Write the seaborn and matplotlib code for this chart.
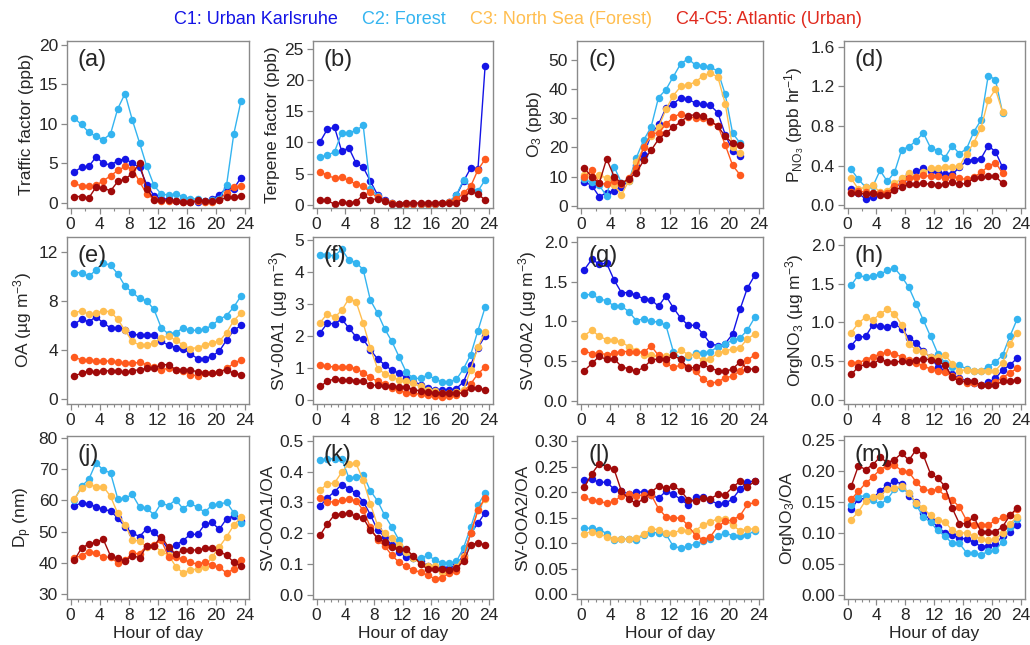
import numpy as np
import pandas as pd
import matplotlib
matplotlib.use("Agg")
import matplotlib.pyplot as plt
from matplotlib.ticker import MultipleLocator, FormatStrFormatter
import seaborn as sns

# ---------------- data: diurnal cycles (hourly means, bins centred on the half hour) ----------------
hours = [h + 0.5 for h in range(24)]

clusters = ["C1", "C2", "C3", "C4", "C5"]
cluster_colors = ["#1414e6", "#34b4f0", "#ffbe50", "#ff5a1e", "#a00a0a"]
legend_labels = ["C1: Urban Karlsruhe", "C2: Forest", "C3: North Sea (Forest)", "C4-C5: Atlantic (Urban)"]
legend_colors = ["#1414e6", "#34b4f0", "#ffbe50", "#e02a1e"]

# (a) traffic factor (ppb)
traffic_c1 = [3.9, 4.5, 4.6, 5.8, 5.0, 4.8, 5.3, 5.6, 5.0, 4.5, 2.3, 0.9, 0.5, 0.5, 0.2, 0.2, 0.1, 0.1, 0.2, 0.5, 1.0, 1.9, 1.8, 3.2]
traffic_c2 = [10.7, 9.9, 8.9, 8.4, 8.0, 8.7, 11.9, 13.8, 10.5, 7.6, 4.6, 2.2, 1.1, 1.0, 1.1, 0.8, 0.5, 0.5, 0.2, 0.3, 0.5, 2.2, 8.7, 12.9]
traffic_c4 = [2.5, 2.1, 2.1, 2.2, 2.8, 3.4, 4.1, 4.6, 4.3, 2.7, 1.1, 0.5, 0.2, 0.2, 0.2, 0.1, 0.1, 0.2, 0.1, 0.1, 0.4, 1.3, 2.0, 2.1]
traffic_c5 = [0.8, 0.8, 0.6, 2.0, 1.9, 1.5, 2.7, 3.0, 3.7, 5.0, 1.8, 0.4, 0.4, 0.3, 0.2, 0.1, 0.1, 0.3, 0.2, 0.2, 0.3, 0.7, 0.7, 0.9]

# (b) terpene factor (ppb)
terpene_c1 = [10.1, 12.1, 12.4, 8.6, 9.1, 6.7, 6.0, 3.8, 1.6, 0.7, 0.3, 0.2, 0.2, 0.2, 0.2, 0.2, 0.2, 0.3, 0.5, 1.5, 3.8, 5.9, 5.7, 22.2]
terpene_c2 = [7.7, 7.9, 8.5, 11.5, 11.5, 11.9, 12.7, 2.6, 1.4, 0.6, 0.3, 0.2, 0.2, 0.2, 0.2, 0.2, 0.2, 0.3, 0.5, 1.6, 4.0, 2.9, 2.2, 4.0]
terpene_c4 = [5.3, 4.7, 4.3, 4.4, 3.9, 3.3, 3.0, 2.0, 1.2, 0.6, 0.3, 0.2, 0.2, 0.2, 0.2, 0.2, 0.2, 0.3, 0.4, 0.9, 1.9, 3.0, 5.6, 7.3]
terpene_c5 = [0.7, 0.7, 0.1, 0.4, 0.3, 0.5, 1.6, 0.8, 1.0, 0.6, 0.2, 0.2, 0.3, 0.3, 0.3, 0.3, 0.3, 0.3, 0.3, 0.3, 1.1, 2.2, 1.7, 0.8]

# (c) O3 (ppb), 0:30-21:30
o3_c1 = [8.2, 6.9, 3.1, 4.4, 5.2, 6.3, 8.7, 13.9, 17.3, 24.4, 27.9, 33.5, 35.0, 37.0, 36.5, 35.2, 34.8, 34.4, 31.9, 24.4, 18.8, 17.0]
o3_c2 = [9.0, 8.0, 7.0, 3.3, 13.4, 7.8, 8.5, 16.4, 22.5, 27.0, 37.1, 39.8, 44.3, 48.7, 50.4, 48.2, 48.0, 47.5, 46.2, 38.2, 24.9, 21.5]
o3_c3 = [10.6, 10.0, 10.5, 9.4, 7.0, 3.8, 8.5, 15.0, 20.0, 24.0, 27.0, 33.0, 37.8, 40.9, 41.5, 42.4, 44.6, 45.5, 44.2, 35.0, 20.0, 17.9]
o3_c4 = [9.7, 12.2, 7.7, 7.3, 8.3, 7.5, 9.5, 13.0, 20.0, 24.7, 25.0, 27.9, 30.4, 31.6, 30.4, 30.2, 30.0, 28.8, 27.5, 20.9, 13.8, 10.6]
o3_c5 = [12.8, 9.9, 7.7, 16.1, 10.0, 7.7, 9.2, 11.3, 15.5, 19.0, 22.8, 24.9, 27.0, 28.7, 30.9, 31.2, 30.7, 29.0, 27.3, 23.8, 21.4, 20.8]

# (d) nitrate radical production rate (ppb hr-1), 0:30-21:30
pno3_c1 = [0.16, 0.12, 0.06, 0.08, 0.12, 0.13, 0.16, 0.24, 0.31, 0.34, 0.37, 0.34, 0.33, 0.31, 0.31, 0.38, 0.45, 0.46, 0.47, 0.60, 0.54, 0.38]
pno3_c2 = [0.36, 0.26, 0.18, 0.19, 0.35, 0.24, 0.33, 0.56, 0.59, 0.65, 0.73, 0.58, 0.55, 0.48, 0.60, 0.52, 0.57, 0.74, 0.86, 1.31, 1.27, 0.93]
pno3_c3 = [0.27, 0.16, 0.18, 0.20, 0.13, 0.14, 0.22, 0.27, 0.32, 0.28, 0.33, 0.37, 0.37, 0.38, 0.38, 0.39, 0.52, 0.63, 0.78, 1.06, 1.17, 0.94]
pno3_c4 = [0.13, 0.14, 0.13, 0.12, 0.12, 0.12, 0.19, 0.22, 0.27, 0.28, 0.30, 0.29, 0.29, 0.27, 0.29, 0.27, 0.26, 0.28, 0.33, 0.39, 0.43, 0.32]
pno3_c5 = [0.12, 0.12, 0.11, 0.12, 0.10, 0.10, 0.15, 0.18, 0.21, 0.21, 0.22, 0.21, 0.20, 0.21, 0.23, 0.21, 0.22, 0.27, 0.28, 0.29, 0.29, 0.22]

# (e) OA (ug m-3)
oa_c1 = [6.1, 6.5, 6.3, 6.7, 6.2, 5.8, 5.8, 5.6, 5.3, 5.2, 5.2, 5.2, 4.7, 4.4, 4.2, 4.1, 3.7, 3.3, 3.3, 3.5, 3.9, 4.8, 5.6, 6.0]
oa_c2 = [10.3, 10.3, 10.0, 10.5, 11.1, 10.9, 10.2, 9.2, 8.7, 8.2, 8.0, 7.3, 5.8, 5.3, 5.4, 5.8, 5.6, 5.6, 5.7, 6.0, 6.5, 6.8, 7.5, 8.4]
oa_c3 = [7.0, 7.2, 6.9, 7.0, 7.2, 7.1, 6.5, 5.6, 4.7, 4.4, 4.4, 4.6, 5.0, 5.1, 4.8, 4.4, 4.1, 4.2, 4.4, 4.6, 4.7, 5.4, 6.4, 7.0]
oa_c4 = [3.4, 3.2, 3.2, 3.1, 3.1, 3.1, 3.0, 2.9, 2.9, 3.0, 2.8, 2.6, 2.4, 2.5, 2.4, 2.3, 2.0, 1.9, 2.1, 2.1, 2.2, 2.5, 2.9, 3.2]
oa_c5 = [1.9, 2.1, 2.3, 2.2, 2.3, 2.3, 2.3, 2.2, 2.3, 2.4, 2.5, 2.5, 2.8, 2.8, 2.4, 2.4, 2.4, 2.2, 2.1, 2.1, 2.2, 2.4, 2.1, 2.0]

# (f) SV-OOA1 (ug m-3)
svooa1_c1 = [2.10, 2.40, 2.38, 2.53, 2.25, 1.98, 1.90, 1.57, 1.28, 1.10, 0.92, 0.84, 0.68, 0.57, 0.48, 0.38, 0.32, 0.30, 0.30, 0.35, 0.57, 1.10, 1.63, 2.00]
svooa1_c2 = [4.55, 4.55, 4.50, 4.72, 4.38, 4.30, 4.08, 3.12, 2.72, 2.22, 1.83, 1.35, 0.87, 0.67, 0.67, 0.78, 0.65, 0.57, 0.57, 0.64, 0.98, 1.42, 2.17, 2.90]
svooa1_c3 = [2.42, 2.70, 2.58, 2.80, 3.17, 3.08, 2.40, 1.62, 0.98, 0.82, 0.72, 0.62, 0.58, 0.52, 0.42, 0.32, 0.28, 0.22, 0.22, 0.25, 0.32, 0.95, 1.65, 2.13]
svooa1_c4 = [1.10, 1.05, 1.03, 1.03, 1.03, 0.98, 0.85, 0.70, 0.58, 0.50, 0.38, 0.30, 0.22, 0.20, 0.18, 0.15, 0.13, 0.10, 0.12, 0.15, 0.25, 0.50, 0.82, 1.02]
svooa1_c5 = [0.42, 0.58, 0.66, 0.62, 0.63, 0.60, 0.58, 0.47, 0.45, 0.42, 0.43, 0.40, 0.40, 0.32, 0.28, 0.25, 0.22, 0.20, 0.20, 0.20, 0.22, 0.38, 0.36, 0.32]

# (g) SV-OOA2 (ug m-3)
svooa2_c1 = [1.65, 1.78, 1.72, 1.73, 1.52, 1.36, 1.36, 1.33, 1.28, 1.27, 1.19, 1.32, 1.17, 1.04, 0.95, 0.95, 0.84, 0.72, 0.69, 0.72, 0.84, 1.15, 1.42, 1.58]
svooa2_c2 = [1.33, 1.34, 1.28, 1.26, 1.19, 1.19, 1.12, 1.01, 1.03, 1.00, 0.99, 0.95, 0.62, 0.53, 0.55, 0.60, 0.60, 0.62, 0.68, 0.72, 0.76, 0.79, 0.89, 1.05]
svooa2_c3 = [0.82, 0.89, 0.81, 0.77, 0.76, 0.74, 0.68, 0.63, 0.58, 0.57, 0.56, 0.56, 0.57, 0.64, 0.58, 0.57, 0.51, 0.53, 0.60, 0.63, 0.65, 0.67, 0.78, 0.84]
svooa2_c4 = [0.63, 0.59, 0.60, 0.58, 0.60, 0.62, 0.62, 0.62, 0.61, 0.69, 0.57, 0.47, 0.42, 0.45, 0.42, 0.37, 0.27, 0.22, 0.24, 0.29, 0.31, 0.38, 0.51, 0.58]
svooa2_c5 = [0.38, 0.47, 0.56, 0.52, 0.53, 0.43, 0.40, 0.37, 0.42, 0.51, 0.53, 0.52, 0.57, 0.52, 0.41, 0.42, 0.46, 0.41, 0.38, 0.37, 0.40, 0.49, 0.40, 0.40]

# (h) OrgNO3 (ug m-3)
orgno3_c1 = [0.70, 0.81, 0.82, 0.97, 0.95, 0.94, 0.98, 0.92, 0.80, 0.74, 0.63, 0.55, 0.43, 0.38, 0.33, 0.28, 0.25, 0.22, 0.20, 0.23, 0.28, 0.39, 0.45, 0.54]
orgno3_c2 = [1.48, 1.61, 1.58, 1.60, 1.62, 1.67, 1.70, 1.59, 1.45, 1.24, 1.03, 0.82, 0.60, 0.48, 0.43, 0.45, 0.40, 0.38, 0.38, 0.43, 0.49, 0.58, 0.82, 1.04]
orgno3_c3 = [0.87, 0.99, 1.07, 1.03, 1.11, 1.17, 1.11, 0.97, 0.72, 0.65, 0.62, 0.56, 0.56, 0.58, 0.47, 0.38, 0.39, 0.38, 0.38, 0.38, 0.38, 0.48, 0.72, 0.87]
orgno3_c4 = [0.48, 0.48, 0.52, 0.56, 0.59, 0.62, 0.59, 0.56, 0.52, 0.48, 0.44, 0.40, 0.38, 0.36, 0.31, 0.27, 0.22, 0.22, 0.20, 0.20, 0.23, 0.29, 0.35, 0.41]
orgno3_c5 = [0.33, 0.43, 0.46, 0.46, 0.53, 0.49, 0.49, 0.50, 0.49, 0.52, 0.53, 0.52, 0.50, 0.45, 0.30, 0.24, 0.24, 0.24, 0.19, 0.19, 0.20, 0.24, 0.25, 0.26]

# (j) particle diameter Dp (nm)
dp_c1 = [58.2, 59.2, 58.7, 58.0, 57.1, 56.6, 54.3, 51.6, 49.5, 48.4, 50.9, 49.7, 47.5, 44.2, 45.7, 47.1, 49.1, 49.1, 52.3, 52.9, 50.7, 54.1, 55.1, 53.3]
dp_c2 = [60.0, 64.5, 66.7, 72.0, 69.7, 68.8, 60.5, 60.6, 61.9, 57.9, 57.4, 55.4, 59.1, 58.3, 60.2, 57.3, 59.0, 57.8, 56.2, 58.5, 58.7, 59.4, 56.0, 52.8]
dp_c3 = [60.5, 63.8, 65.3, 64.3, 64.4, 61.3, 55.8, 52.2, 47.3, 47.0, 45.0, 45.5, 43.6, 42.5, 38.8, 36.7, 37.7, 38.0, 38.8, 41.8, 45.0, 48.3, 52.0, 54.6]
dp_c4 = [41.5, 42.3, 43.6, 43.2, 41.8, 41.8, 39.9, 40.8, 43.0, 42.9, 45.5, 45.8, 47.2, 42.0, 41.8, 41.2, 40.1, 39.6, 40.2, 39.2, 38.6, 36.7, 38.0, 40.8]
dp_c5 = [40.8, 44.7, 46.0, 46.6, 47.5, 42.2, 41.4, 40.6, 42.3, 41.6, 45.4, 45.5, 48.4, 45.0, 42.7, 44.1, 44.2, 44.0, 44.6, 44.6, 43.6, 42.4, 40.2, 38.9]

# (k) SV-OOA1 / OA
f_ooa1_c1 = [0.288, 0.315, 0.335, 0.358, 0.345, 0.330, 0.303, 0.260, 0.210, 0.188, 0.160, 0.140, 0.122, 0.120, 0.110, 0.093, 0.088, 0.087, 0.087, 0.095, 0.130, 0.200, 0.232, 0.267]
f_ooa1_c2 = [0.437, 0.442, 0.442, 0.442, 0.380, 0.382, 0.390, 0.338, 0.305, 0.258, 0.220, 0.177, 0.140, 0.118, 0.118, 0.128, 0.113, 0.103, 0.103, 0.108, 0.153, 0.220, 0.292, 0.330]
f_ooa1_c3 = [0.340, 0.360, 0.363, 0.398, 0.425, 0.427, 0.372, 0.296, 0.225, 0.200, 0.183, 0.160, 0.140, 0.120, 0.100, 0.093, 0.092, 0.075, 0.075, 0.090, 0.125, 0.200, 0.275, 0.310]
f_ooa1_c4 = [0.315, 0.300, 0.303, 0.307, 0.310, 0.305, 0.275, 0.220, 0.178, 0.158, 0.128, 0.105, 0.092, 0.080, 0.073, 0.063, 0.052, 0.055, 0.070, 0.078, 0.120, 0.200, 0.275, 0.315]
f_ooa1_c5 = [0.194, 0.230, 0.260, 0.262, 0.265, 0.255, 0.250, 0.210, 0.185, 0.170, 0.155, 0.150, 0.148, 0.125, 0.100, 0.083, 0.085, 0.083, 0.080, 0.087, 0.108, 0.163, 0.168, 0.162]

# (l) SV-OOA2 / OA
f_ooa2_c1 = [0.223, 0.226, 0.219, 0.220, 0.206, 0.202, 0.196, 0.201, 0.200, 0.195, 0.188, 0.202, 0.196, 0.186, 0.175, 0.191, 0.190, 0.184, 0.177, 0.178, 0.187, 0.206, 0.220, 0.222]
f_ooa2_c2 = [0.129, 0.130, 0.127, 0.119, 0.106, 0.108, 0.108, 0.107, 0.117, 0.121, 0.121, 0.118, 0.094, 0.091, 0.094, 0.099, 0.104, 0.108, 0.115, 0.120, 0.115, 0.115, 0.117, 0.124]
f_ooa2_c3 = [0.119, 0.123, 0.118, 0.113, 0.108, 0.108, 0.108, 0.110, 0.118, 0.128, 0.127, 0.120, 0.120, 0.126, 0.124, 0.125, 0.136, 0.142, 0.148, 0.147, 0.135, 0.125, 0.128, 0.128]
f_ooa2_c4 = [0.190, 0.184, 0.183, 0.178, 0.182, 0.193, 0.197, 0.193, 0.195, 0.195, 0.168, 0.152, 0.150, 0.149, 0.135, 0.115, 0.107, 0.113, 0.133, 0.143, 0.146, 0.154, 0.176, 0.180]
f_ooa2_c5 = [0.210, 0.236, 0.256, 0.250, 0.245, 0.202, 0.186, 0.178, 0.187, 0.200, 0.212, 0.208, 0.212, 0.203, 0.185, 0.182, 0.189, 0.187, 0.196, 0.195, 0.210, 0.221, 0.210, 0.222]

# (m) OrgNO3 / OA
f_orgno3_c1 = [0.138, 0.155, 0.155, 0.156, 0.167, 0.177, 0.183, 0.179, 0.160, 0.150, 0.132, 0.120, 0.110, 0.100, 0.097, 0.092, 0.090, 0.085, 0.078, 0.079, 0.082, 0.095, 0.102, 0.113]
f_orgno3_c2 = [0.145, 0.158, 0.160, 0.153, 0.146, 0.154, 0.170, 0.173, 0.165, 0.145, 0.126, 0.117, 0.104, 0.095, 0.083, 0.083, 0.068, 0.068, 0.065, 0.070, 0.072, 0.086, 0.110, 0.123]
f_orgno3_c3 = [0.121, 0.134, 0.152, 0.158, 0.160, 0.170, 0.172, 0.175, 0.165, 0.148, 0.140, 0.128, 0.120, 0.118, 0.104, 0.100, 0.100, 0.095, 0.090, 0.088, 0.090, 0.100, 0.115, 0.125]
f_orgno3_c4 = [0.154, 0.167, 0.180, 0.190, 0.202, 0.208, 0.209, 0.200, 0.198, 0.182, 0.170, 0.168, 0.170, 0.160, 0.153, 0.142, 0.120, 0.113, 0.113, 0.113, 0.120, 0.125, 0.128, 0.138]
f_orgno3_c5 = [0.175, 0.208, 0.202, 0.210, 0.222, 0.213, 0.218, 0.228, 0.217, 0.234, 0.225, 0.195, 0.188, 0.175, 0.140, 0.115, 0.115, 0.126, 0.102, 0.102, 0.102, 0.110, 0.128, 0.140]

# ---------------- styling ----------------
sns.set_theme(style="white")
plt.rcParams["font.family"] = ["Liberation Sans", "DejaVu Sans"]
plt.rcParams["mathtext.fontset"] = "custom"
plt.rcParams["mathtext.rm"] = "Liberation Sans"
plt.rcParams["mathtext.it"] = "Liberation Sans:italic"
plt.rcParams["mathtext.bf"] = "Liberation Sans:bold"
plt.rcParams["mathtext.default"] = "regular"

palette = dict(zip(clusters, cluster_colors))
FRAME = "#8a8a8a"

W, H = 1030, 645
fig = plt.figure(figsize=(W / 100, H / 100), dpi=100)
fig.patch.set_facecolor("white")

col_lr = [(67, 249), (313, 493), (577, 763), (844, 1025)]
row_tb = [(41, 208), (237, 404), (436, 599)]


def add_ax(col, row):
    l, r = col_lr[col]
    t, b = row_tb[row]
    return fig.add_axes([l / W, 1 - b / H, (r - l) / W, (b - t) / H])


panels = [
    ("(a)", {"C1": traffic_c1, "C2": traffic_c2, "C4": traffic_c4, "C5": traffic_c5},
     (-0.65, 20.45), 5, "%d", "Traffic factor (ppb)"),
    ("(b)", {"C1": terpene_c1, "C2": terpene_c2, "C4": terpene_c4, "C5": terpene_c5},
     (-0.5, 26.2), 5, "%d", "Terpene factor (ppb)"),
    ("(c)", {"C1": o3_c1, "C2": o3_c2, "C3": o3_c3, "C4": o3_c4, "C5": o3_c5},
     (-0.8, 56.5), 10, "%d", "O$_3$ (ppb)"),
    ("(d)", {"C1": pno3_c1, "C2": pno3_c2, "C3": pno3_c3, "C4": pno3_c4, "C5": pno3_c5},
     (-0.03, 1.66), 0.4, "%.1f", "P$_{NO_3}$ (ppb hr$^{-1}$)"),
    ("(e)", {"C1": oa_c1, "C2": oa_c2, "C3": oa_c3, "C4": oa_c4, "C5": oa_c5},
     (-0.4, 13.2), 4, "%d", "OA (µg m$^{-3}$)"),
    ("(f)", {"C1": svooa1_c1, "C2": svooa1_c2, "C3": svooa1_c3, "C4": svooa1_c4, "C5": svooa1_c5},
     (-0.13, 5.1), 1, "%d", "SV-00A1 (µg m$^{-3}$)"),
    ("(g)", {"C1": svooa2_c1, "C2": svooa2_c2, "C3": svooa2_c3, "C4": svooa2_c4, "C5": svooa2_c5},
     (-0.04, 2.06), 0.5, "%.1f", "SV-00A2 (µg m$^{-3}$)"),
    ("(h)", {"C1": orgno3_c1, "C2": orgno3_c2, "C3": orgno3_c3, "C4": orgno3_c4, "C5": orgno3_c5},
     (-0.05, 2.1), 0.5, "%.1f", "OrgNO$_3$ (µg m$^{-3}$)"),
    ("(j)", {"C1": dp_c1, "C2": dp_c2, "C3": dp_c3, "C4": dp_c4, "C5": dp_c5},
     (28.4, 80.6), 10, "%d", "D$_p$ (nm)"),
    ("(k)", {"C1": f_ooa1_c1, "C2": f_ooa1_c2, "C3": f_ooa1_c3, "C4": f_ooa1_c4, "C5": f_ooa1_c5},
     (-0.014, 0.516), 0.1, "%.1f", "SV-OOA1/OA"),
    ("(l)", {"C1": f_ooa2_c1, "C2": f_ooa2_c2, "C3": f_ooa2_c3, "C4": f_ooa2_c4, "C5": f_ooa2_c5},
     (-0.009, 0.31), 0.05, "%.2f", "SV-OOA2/OA"),
    ("(m)", {"C1": f_orgno3_c1, "C2": f_orgno3_c2, "C3": f_orgno3_c3, "C4": f_orgno3_c4, "C5": f_orgno3_c5},
     (-0.0065, 0.256), 0.05, "%.2f", "OrgNO$_3$/OA"),
]

for idx, (tag, series, ylim, ystep, yfmt, ylabel) in enumerate(panels):
    row, col = divmod(idx, 4)
    ax = add_ax(col, row)

    frames = []
    for name, vals in series.items():
        frames.append(pd.DataFrame({"hour": hours[:len(vals)], "value": vals, "cluster": name}))
    df = pd.concat(frames, ignore_index=True)
    order = [c for c in clusters if c in series]

    sns.lineplot(data=df, x="hour", y="value", hue="cluster", hue_order=order,
                 palette=palette, marker="o", markersize=5.4, markeredgewidth=0,
                 linewidth=1.0, estimator=None, sort=False, legend=False, ax=ax)

    ax.set_xlim(-0.5, 24.6)
    ax.set_ylim(*ylim)
    ax.xaxis.set_major_locator(MultipleLocator(4))
    ax.xaxis.set_minor_locator(MultipleLocator(2 if row == 0 else 1))
    ax.yaxis.set_major_locator(MultipleLocator(ystep))
    ax.yaxis.set_major_formatter(FormatStrFormatter(yfmt))

    for s in ax.spines.values():
        s.set_color(FRAME)
        s.set_linewidth(1.0)
    ax.tick_params(axis="both", which="major", direction="out", length=4.5, width=0.9,
                   color=FRAME, labelsize=12.5, pad=2, bottom=True, left=True)
    ax.tick_params(axis="x", which="minor", direction="out", length=2.5, width=0.8,
                   color=FRAME, bottom=True)

    ax.set_ylabel(ylabel, fontsize=12.5, labelpad=3)
    if row == 2:
        ax.set_xlabel("Hour of day", fontsize=12.5, labelpad=2)
    else:
        ax.set_xlabel("")

    ax.text(0.06, 0.95, tag, transform=ax.transAxes, fontsize=17, va="top", ha="left", zorder=5)

# cluster key across the top: a single centred line with even gaps
renderer = fig.canvas.get_renderer()
key_texts = [fig.text(0, 1 - 20 / H, lab, color=c, fontsize=13, ha="left", va="center")
             for lab, c in zip(legend_labels, legend_colors)]
widths = [t.get_window_extent(renderer).width for t in key_texts]
gap = 24
x = 518 - (sum(widths) + gap * (len(widths) - 1)) / 2
for t, w in zip(key_texts, widths):
    t.set_x(x / W)
    x += w + gap

fig.savefig("out.png", dpi=100, facecolor="white")
